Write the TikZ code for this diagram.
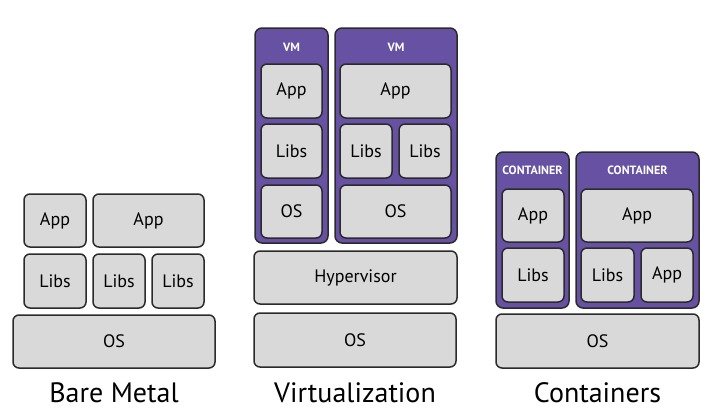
\documentclass[tikz,border=0pt]{standalone}
\usepackage{fontspec}
\setmainfont{PT Sans}
\usepackage{tikz}
\definecolor{layergray}{HTML}{D9D9D9}
\definecolor{guestpurple}{HTML}{6651A3}
\definecolor{edgegray}{HTML}{2B2B2B}

\tikzset{
    layer/.style={draw=edgegray, fill=layergray, line width=1.5pt, rounded corners=6pt,
        inner sep=0pt, font=\fontsize{18}{21}\selectfont},
    guest/.style={draw=edgegray, fill=guestpurple, line width=1.5pt, rounded corners=7pt, inner sep=0pt},
    tag/.style={text=white, font=\bfseries\fontsize{12}{14}\selectfont},
    caption/.style={font=\fontsize{28}{32}\selectfont}
}

\begin{document}
\begin{tikzpicture}[x=1pt, y=-1pt]
        \useasboundingbox (0,0) rectangle (716,416);

        % bare metal
            \node[layer, minimum width=62pt, minimum height=53pt] (bmAppA) at (55,220.5) {App};
            \node[layer, minimum width=111pt, minimum height=53pt] (bmAppB) at (148.5,220.5) {App};
            \node[layer, minimum width=62pt, minimum height=54pt] (bmLibsA) at (55,281) {Libs};
            \node[layer, minimum width=52pt, minimum height=54pt] (bmLibsB) at (119,281) {Libs};
            \node[layer, minimum width=52pt, minimum height=54pt] (bmLibsC) at (178,281) {Libs};
            \node[layer, minimum width=202pt, minimum height=53pt] (bmOS) at (114,341.5) {OS};
            \node[caption] (bmCap) at (114,393) {Bare Metal};

        % virtualization
            \node[guest, minimum width=73pt, minimum height=215pt] (vmA) at (291.5,135.5) {};
            \node[guest, minimum width=122pt, minimum height=215pt] (vmB) at (396,135.5) {};
            \node[tag] (vmATag) at (291.5,47) {VM};
            \node[tag] (vmBTag) at (396,47) {VM};
            \node[layer, minimum width=61pt, minimum height=54pt] (vmAApp) at (291.5,91) {App};
            \node[layer, minimum width=61pt, minimum height=54pt] (vmALibs) at (291.5,151) {Libs};
            \node[layer, minimum width=61pt, minimum height=53pt] (vmAOS) at (291.5,211.5) {OS};
            \node[layer, minimum width=111pt, minimum height=54pt] (vmBApp) at (395.5,91) {App};
            \node[layer, minimum width=52pt, minimum height=54pt] (vmBLibsA) at (366,151) {Libs};
            \node[layer, minimum width=52pt, minimum height=54pt] (vmBLibsB) at (425,151) {Libs};
            \node[layer, minimum width=111pt, minimum height=53pt] (vmBOS) at (395.5,211.5) {OS};
            \node[layer, minimum width=203pt, minimum height=53pt] (hyper) at (355.5,277.5) {Hypervisor};
            \node[layer, minimum width=202pt, minimum height=54pt] (vOS) at (355,340) {OS};
            \node[caption] (vCap) at (355,393) {Virtualization};

        % containers
            \node[guest, minimum width=73pt, minimum height=156pt] (ctA) at (532.5,230) {};
            \node[guest, minimum width=123pt, minimum height=156pt] (ctB) at (637.5,230) {};
            \node[tag] (ctATag) at (532.5,170) {CONTAINER};
            \node[tag] (ctBTag) at (637.5,170) {CONTAINER};
            \node[layer, minimum width=62pt, minimum height=53pt] (ctAApp) at (533,215.5) {App};
            \node[layer, minimum width=62pt, minimum height=54pt] (ctALibs) at (533,275) {Libs};
            \node[layer, minimum width=112pt, minimum height=53pt] (ctBApp) at (637,215.5) {App};
            \node[layer, minimum width=53pt, minimum height=54pt] (ctBLibs) at (607.5,275) {Libs};
            \node[layer, minimum width=52pt, minimum height=54pt] (ctBAppB) at (667,275) {App};
            \node[layer, minimum width=203pt, minimum height=54pt] (cOS) at (597.5,341) {OS};
            \node[caption] (cCap) at (597.5,393) {Containers};
\end{tikzpicture}
\end{document}
